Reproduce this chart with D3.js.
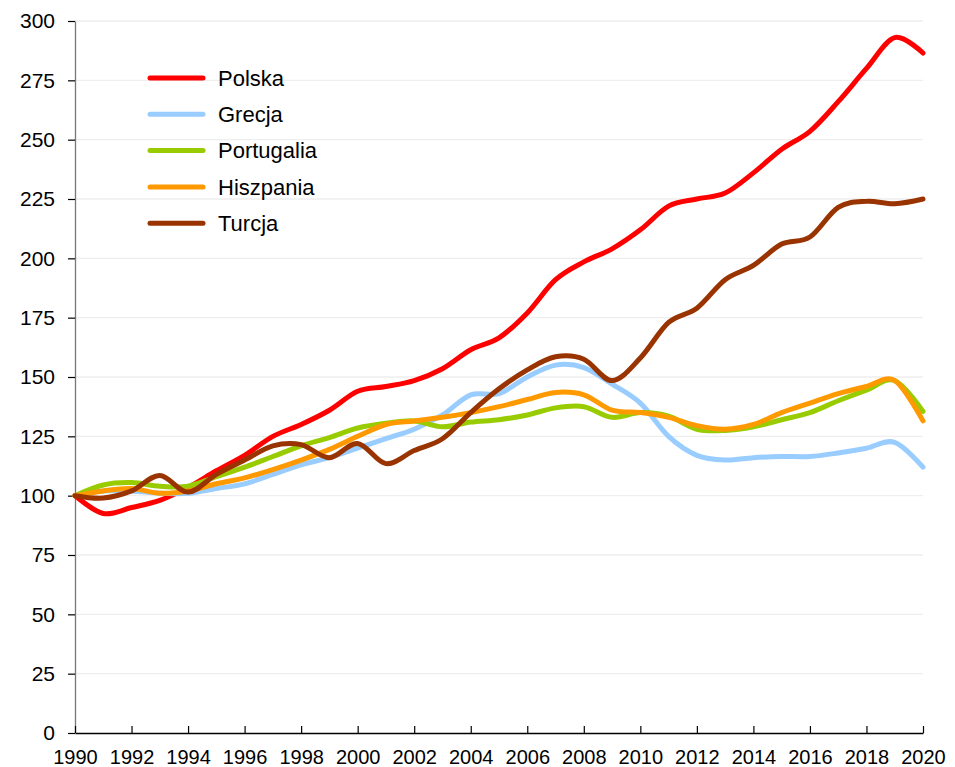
<!DOCTYPE html>
<html>
<head>
<meta charset="utf-8">
<script src="https://cdn.jsdelivr.net/npm/d3@7"></script>
<style>
  body { margin: 0; background: #fff; }
  svg text { font-family: "Liberation Sans", Arial, sans-serif; fill: #000; }
</style>
</head>
<body>
<svg id="chart" width="955" height="767"></svg>
<script>
// years on the x axis
var years = d3.range(1990, 2021);

// series values (1990 = 100)
var polska = [100, 92.5, 95, 98, 103.5, 110.5, 117, 125, 130, 136, 144, 146, 148.5, 153.5, 161.5, 166.5, 177, 191, 198.5, 204, 212, 222, 225, 227.5, 236, 246, 253.5, 266, 280, 293, 286.5];
var grecja = [100, 102, 102, 101, 101, 103, 105, 109, 113, 116, 120, 124, 128, 134, 142.5, 143, 150, 155, 154, 147, 139, 125, 117, 115, 116, 116.5, 116.5, 118, 120, 122.5, 112];
var portugalia = [100, 104.5, 105.5, 104, 104, 108, 112, 116.5, 121, 124.5, 128.5, 130.5, 131.5, 129, 131, 132, 134, 137, 137.5, 133, 135, 133.5, 128, 127.5, 129, 132, 135, 140, 144.5, 148.5, 135.5];
var hiszpania = [100, 102, 103, 101, 102, 105, 107.5, 111, 115, 119.5, 125, 130, 131.5, 133, 135, 137.5, 140.5, 143.5, 142.5, 136, 135, 133, 129.5, 128, 130, 135, 139, 143, 146, 148.5, 131.5];
var turcja = [100, 99, 102, 108.5, 101.5, 109, 115, 121, 121.5, 116, 122, 113.5, 119, 124, 135, 145, 153, 158.5, 157.5, 148.5, 158, 173, 179, 191, 197, 206, 209, 221.5, 224, 223, 225];

var seriesNames = ["Polska", "Grecja", "Portugalia", "Hiszpania", "Turcja"];
var seriesColors = ["#ff0000", "#99ccff", "#99cc00", "#ff9900", "#993300"];
var yTicks = d3.range(0, 301, 25);
var xTicks = d3.range(1990, 2021, 2);

var svg = d3.select("#chart");

var x = d3.scaleLinear().domain([1990, 2020]).range([75, 923]);
var y = d3.scaleLinear().domain([0, 300]).range([733, 21]);

// gridlines
svg.append("g")
  .selectAll("line")
  .data(yTicks.filter(function(d) { return d > 0; }))
  .enter().append("line")
  .attr("x1", x(1990)).attr("x2", x(2020))
  .attr("y1", function(d) { return y(d); })
  .attr("y2", function(d) { return y(d); })
  .attr("stroke", "#eeeeee")
  .attr("stroke-width", 1.3);

// y axis
var yAxis = svg.append("g")
  .attr("transform", "translate(" + x(1990) + ",0)")
  .call(d3.axisLeft(y).tickValues(yTicks).tickSize(7).tickPadding(13).tickSizeOuter(0));
yAxis.select(".domain").attr("stroke", "#777").attr("stroke-width", 1.3);
yAxis.selectAll(".tick line").attr("stroke", "#000").attr("stroke-width", 1.2);
yAxis.selectAll("text").style("font-size", "21px");

// x axis (ticks inward)
var xAxis = svg.append("g")
  .attr("transform", "translate(0," + y(0) + ")")
  .call(d3.axisBottom(x).tickValues(xTicks).tickFormat(d3.format("d")).tickSize(-7).tickPadding(17).tickSizeOuter(0));
xAxis.select(".domain").attr("stroke", "#000").attr("stroke-width", 1.3);
xAxis.selectAll(".tick line").attr("stroke", "#000").attr("stroke-width", 1.2);
xAxis.selectAll("text").style("font-size", "20px");

// series lines
var allSeries = [polska, grecja, portugalia, hiszpania, turcja];
var line = d3.line()
  .x(function(d, i) { return x(years[i]); })
  .y(function(d) { return y(d); })
  .curve(d3.curveCatmullRom.alpha(0));

svg.append("g")
  .selectAll("path")
  .data(allSeries)
  .enter().append("path")
  .attr("d", line)
  .attr("fill", "none")
  .attr("stroke", function(d, i) { return seriesColors[i]; })
  .attr("stroke-width", 5)
  .attr("stroke-linecap", "round")
  .attr("stroke-linejoin", "round");

// legend
var legend = svg.append("g").attr("transform", "translate(150,78)");
var item = legend.selectAll("g")
  .data(seriesNames)
  .enter().append("g")
  .attr("transform", function(d, i) { return "translate(0," + (i * 36.3) + ")"; });
item.append("line")
  .attr("x1", 0).attr("x2", 53)
  .attr("stroke", function(d, i) { return seriesColors[i]; })
  .attr("stroke-width", 5)
  .attr("stroke-linecap", "round");
item.append("text")
  .attr("x", 68)
  .attr("dy", "0.35em")
  .style("font-size", "22px")
  .text(function(d) { return d; });
</script>
</body>
</html>
